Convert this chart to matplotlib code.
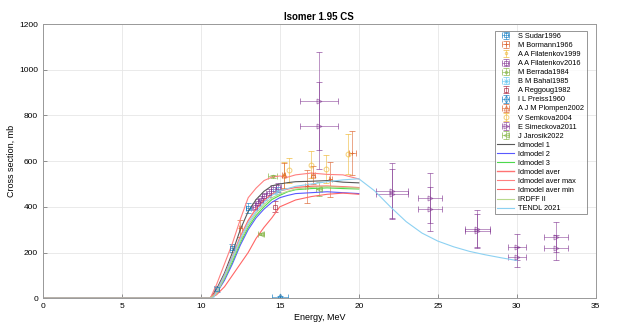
import numpy as np
import matplotlib.pyplot as plt

plt.rcParams['font.family'] = ['Liberation Sans', 'DejaVu Sans']

# ---- experimental data: energy (MeV), cross section (mb), errors ----
sudar_e = [11.0, 12.0, 13.0]
sudar_s = [40, 220, 395]
sudar_de = [0.15, 0.15, 0.15]
sudar_ds = [15, 18, 20]

bormann_e = [12.5, 16.7, 18.2, 19.6]
bormann_s = [307, 490, 520, 636]
bormann_de = [0.1, 0.1, 0.1, 0.2]
bormann_ds = [37, 73, 77, 95]

filat99_e = [15.26]
filat99_s = [538]
filat99_ds = [60]

filat16_e = [13.4, 13.6, 13.8, 14.0, 14.3, 14.6, 14.9]
filat16_s = [400, 418, 432, 446, 462, 478, 485]
filat16_de = [0.15] * 7
filat16_ds = [15, 15, 16, 16, 17, 17, 18]

berrada_e = [14.55]
berrada_s = [533]
berrada_ds = [8]

bahal_e = [14.8]
bahal_s = [470]
bahal_de = [0.2]
bahal_ds = [15]

reggoug_e = [14.7]
reggoug_s = [401]
reggoug_ds = [25]

preiss_e = [15.0]
preiss_s = [5]
preiss_de = [0.5]
preiss_ds = [3]

plompen_e = [15.26, 17.1]
plompen_s = [538, 540]
plompen_ds = [55, 40]

semkova_e = [15.6, 17.0, 17.9, 19.3]
semkova_s = [560, 585, 565, 631]
semkova_ds = [55, 60, 62, 88]

simec_e = [17.5, 17.5, 22.1, 22.1, 24.5, 24.5, 27.5, 27.5, 30.0, 30.0, 32.5, 32.5]
simec_s = [862, 756, 470, 455, 440, 391, 305, 295, 224, 180, 268, 220]
simec_de = [1.2, 1.2, 1.0, 1.0, 0.75, 0.75, 0.8, 0.8, 0.55, 0.55, 0.75, 0.75]
simec_ds = [215, 190, 120, 110, 110, 95, 80, 75, 57, 45, 65, 55]

jarosik_e = [13.8, 17.5]
jarosik_s = [281, 478]
jarosik_de = [0.2, 0.2]
jarosik_ds = [5, 30]

# ---- model curves ----
model_e = [0, 10.6, 11, 11.5, 12, 12.5, 13, 13.5, 14, 14.5, 15, 15.5, 16, 17, 18, 19, 20]
idm1 = [0, 0, 40, 110, 200, 300, 380, 432, 468, 492, 500, 506, 510, 512, 515, 508, 505]
idm2 = [0, 0, 22, 78, 150, 232, 300, 352, 390, 420, 440, 450, 458, 462, 466, 462, 458]
idm3 = [0, 0, 25, 86, 160, 242, 310, 362, 400, 432, 450, 466, 475, 480, 483, 480, 478]
aver = [0, 0, 30, 100, 182, 270, 340, 392, 430, 456, 470, 478, 485, 490, 491, 488, 484]
aver_max = [0, 0, 60, 150, 240, 345, 440, 482, 515, 530, 535, 530, 540, 548, 542, 540, 522]
aver_min = [0, 0, 15, 50, 100, 150, 200, 262, 310, 352, 400, 415, 430, 445, 455, 460, 455]
irdff = [0, 0, 20, 90, 170, 250, 320, 372, 410, 440, 456, 468, 478, 485, 488, 485, 482]

tendl_e = [0, 10.8, 11, 11.5, 12, 12.5, 13, 13.5, 14, 14.5, 15, 15.5, 16, 17, 18, 19, 20,
           21, 22, 23, 24, 25, 26, 27, 28, 29, 30]
tendl = [0, 0, 30, 100, 180, 260, 330, 380, 420, 450, 470, 480, 490, 500, 510, 518, 523,
         470, 400, 335, 285, 250, 225, 205, 190, 177, 165]

blue = (0.0, 0.447, 0.741)
orange = (0.85, 0.325, 0.098)
yellow = (0.929, 0.694, 0.125)
purple = (0.494, 0.184, 0.556)
green = (0.466, 0.674, 0.188)
cyan = (0.301, 0.745, 0.933)
dred = (0.635, 0.078, 0.184)

fig = plt.figure(figsize=(6.2, 3.22), dpi=100)
ax = fig.add_axes([0.069, 0.074, 0.892, 0.851])

eb = dict(capsize=2, elinewidth=0.6, capthick=0.6, markersize=3.5, alpha=0.6,
          markerfacecolor='none', markeredgewidth=0.7, linestyle='none')

ax.errorbar(sudar_e, sudar_s, yerr=sudar_ds, xerr=sudar_de, fmt='s', color=blue, label='S Sudar1996', **eb)
ax.errorbar(bormann_e, bormann_s, yerr=bormann_ds, xerr=bormann_de, fmt='+', color=orange, label='M Bormann1966', **eb)
ax.errorbar(filat99_e, filat99_s, yerr=filat99_ds, fmt='.', color=yellow, label='A A Filatenkov1999', **eb)
ax.errorbar(filat16_e, filat16_s, yerr=filat16_ds, xerr=filat16_de, fmt='s', color=purple, label='A A Filatenkov2016', **eb)
ax.errorbar(berrada_e, berrada_s, yerr=berrada_ds, xerr=[0.3], fmt='.', color=green, label='M Berrada1984', **eb)
ax.errorbar(bahal_e, bahal_s, yerr=bahal_ds, xerr=bahal_de, fmt='x', color=cyan, label='B M Bahal1985', **eb)
ax.errorbar(reggoug_e, reggoug_s, yerr=reggoug_ds, fmt='s', color=dred, label='A Reggoug1982', **eb)
ax.errorbar(preiss_e, preiss_s, yerr=preiss_ds, xerr=preiss_de, fmt='d', color=blue, label='I L Preiss1960', **eb)
ax.errorbar(plompen_e, plompen_s, yerr=plompen_ds, xerr=[0.1, 0.1], fmt='^', color=orange, label='A J M Plompen2002', **eb)
ax.errorbar(semkova_e, semkova_s, yerr=semkova_ds, fmt='o', color=yellow, label='V Semkova2004', **eb)
ax.errorbar(simec_e, simec_s, yerr=simec_ds, xerr=simec_de, fmt='>', color=purple, label='E Simeckova2011', **eb)
ax.errorbar(jarosik_e, jarosik_s, yerr=jarosik_ds, xerr=jarosik_de, fmt='<', color=green, label='J Jarosik2022', **eb)

ax.plot(model_e, idm1, color=(0.35, 0.35, 0.35), lw=0.8, label='Idmodel 1')
ax.plot(model_e, idm2, color=(0.35, 0.35, 1.0), lw=0.8, label='Idmodel 2')
ax.plot(model_e, idm3, color=(0.3, 0.85, 0.3), lw=0.8, label='Idmodel 3')
ax.plot(model_e, aver, color=(1.0, 0.45, 0.45), lw=1.0, label='Idmodel aver')
ax.plot(model_e, aver_max, color=(1.0, 0.5, 0.5), lw=0.8, label='Idmodel aver max')
ax.plot(model_e, aver_min, color=(1.0, 0.4, 0.4), lw=0.8, label='Idmodel aver min')
ax.plot(model_e, irdff, color=(0.72, 0.85, 0.55), lw=0.8, label='IRDFF II')
ax.plot(tendl_e, tendl, color=(0.55, 0.82, 0.95), lw=0.8, label='TENDL 2021')

ax.set_xlim(0, 35)
ax.set_ylim(0, 1200)
ax.set_xticks(range(0, 36, 5))
ax.set_yticks(range(0, 1201, 200))
ax.grid(True, color=(0.9, 0.9, 0.9), lw=0.6)
ax.set_axisbelow(True)
ax.tick_params(labelsize=6, direction='in', length=3, color=(0.5, 0.5, 0.5), width=0.6)
for s in ax.spines.values():
    s.set_color((0.6, 0.6, 0.6))
    s.set_linewidth(0.7)
ax.set_xlabel('Energy, MeV', fontsize=6.5, labelpad=2)
ax.set_ylabel('Cross section, mb', fontsize=6.5, labelpad=2)
ax.set_title('Isomer 1.95 CS', fontsize=7, fontweight='bold', pad=3)

# data sets first, then model curves
handles, labels = ax.get_legend_handles_labels()
handles = handles[8:] + handles[:8]
labels = labels[8:] + labels[:8]
leg = ax.legend(handles, labels, loc='upper right', bbox_to_anchor=(0.99, 0.99), fontsize=5.3,
                frameon=True, fancybox=False, edgecolor=(0.4, 0.4, 0.4), handlelength=2.3,
                labelspacing=0.26, borderpad=0.3, handletextpad=0.6)
leg.get_frame().set_linewidth(0.6)

fig.savefig('out.png', dpi=100)
